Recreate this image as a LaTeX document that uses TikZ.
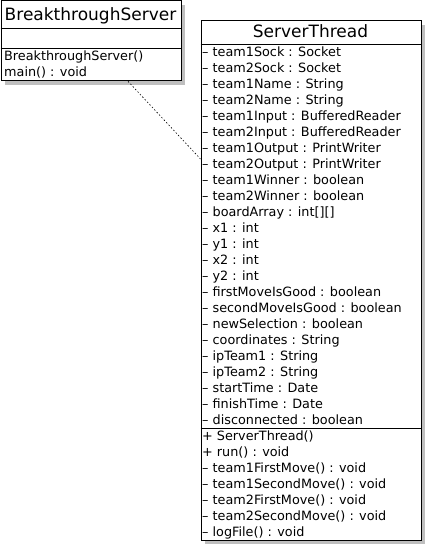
\documentclass[tikz,border=0pt]{standalone}
\usepackage{fontspec}
\setmainfont{DejaVu Sans}
\usetikzlibrary{positioning}
\tikzstyle{class_box} = [
    rectangle, 
    draw=black, 
    fill=white, 
    line width=0.8pt, 
    inner sep=0pt, 
    anchor=north west
]
\tikzstyle{class_shadow} = [
    rectangle, 
    fill=black!25, 
    inner sep=0pt, 
    anchor=north west
]
\tikzstyle{class_name} = [
    font=\fontsize{17}{19}\selectfont, 
    anchor=base, 
    inner sep=0pt
]
\tikzstyle{member} = [
    font=\fontsize{12.8}{14}\selectfont, 
    anchor=base west, 
    inner sep=0pt
]
\tikzstyle{divider} = [
    line width=0.8pt
]
\tikzstyle{depends} = [
    line width=0.6pt, 
    dash pattern=on 1.5pt off 2pt % fine dots like the uml tool
]

\begin{document}
\begin{tikzpicture}[x=1pt, y=-1pt]
\useasboundingbox (0,0) rectangle (425,545);

% main class
\node [class_shadow, minimum width=180pt, minimum height=80pt] (server_shadow) at (4.5,4.5) {};
\node [class_box, minimum width=180pt, minimum height=80pt] (server) at (0.5,0.5) {};
\node [class_name] (server_title) at (90.5,21) {BreakthroughServer};
\draw [divider] (server.north west) ++(0,28) -- ++(180,0);
\draw [divider] (server.north west) ++(0,48) -- ++(180,0);
\node [member] (server_op0) at (4,61) {BreakthroughServer()};
\node [member] (server_op1) at (4,76.5) {main() : void};

% thread class
\node [class_shadow, minimum width=220pt, minimum height=519.5pt] (thread_shadow) at (204.5,24.5) {};
\node [class_box, minimum width=220pt, minimum height=519.5pt] (thread) at (200.5,20.5) {};
\node [class_name] (thread_title) at (310.5,38) {ServerThread};
\draw [divider] (thread.north west) ++(0,23.5) -- ++(220,0);
\draw [divider] (thread.north west) ++(0,407.5) -- ++(220,0);
\foreach \attr [count=\i from 0] in {
    team1Sock : Socket, team2Sock : Socket, team1Name : String, team2Name : String, 
    team1Input : BufferedReader, team2Input : BufferedReader, 
    team1Output : PrintWriter, team2Output : PrintWriter, 
    team1Winner : boolean, team2Winner : boolean, boardArray : int[][], 
    x1 : int, y1 : int, x2 : int, y2 : int, 
    firstMoveIsGood : boolean, secondMoveIsGood : boolean, newSelection : boolean, 
    coordinates : String, ipTeam1 : String, ipTeam2 : String, 
    startTime : Date, finishTime : Date, disconnected : boolean
}
    \node [member] (thread_attr\i) at (202,56.7+16*\i) {-- \attr};
\foreach \sign/\op [count=\i from 0] in {
    +/ServerThread(), +/run() : void, 
    --/team1FirstMove() : void, --/team1SecondMove() : void, 
    --/team2FirstMove() : void, --/team2SecondMove() : void, 
    --/logFile() : void
}
    \node [member] (thread_op\i) at (202,440.7+16*\i) {\sign\ \op};

% dependency
\path (server.south west) ++(127.5,0) coordinate (dep_from);
\path (thread.north west) ++(0,138.5) coordinate (dep_to);
\draw [depends] (dep_from) -- (dep_to);
\end{tikzpicture}
\end{document}
